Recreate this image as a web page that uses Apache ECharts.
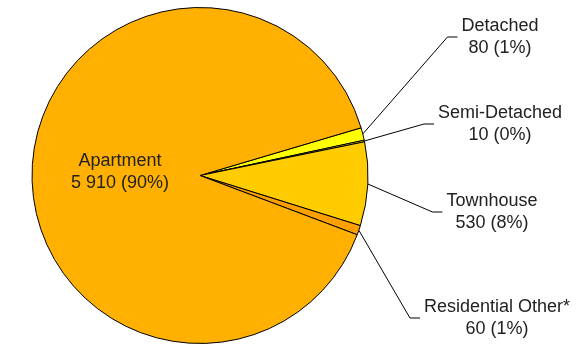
<!DOCTYPE html>
<html>
<head>
<meta charset="utf-8">
<script src="https://cdn.jsdelivr.net/npm/echarts@6/dist/echarts.min.js"></script>
<style>
html,body{margin:0;padding:0;background:#fff;}
#chart{width:579px;height:346px;}
</style>
</head>
<body>
<div id="chart"></div>
<script>
// Data
const categories = ['Detached', 'Semi-Detached', 'Townhouse', 'Residential Other*', 'Apartment'];
const values = [80, 10, 530, 60, 5910];

// Styles / layout (kept apart from data)
const colors = ['#FFFF00', '#FFE600', '#FFCC00', '#FFA000', '#FFB000'];
const labelCenters = {
  'Detached': [500, 37],
  'Semi-Detached': [500, 124],
  'Townhouse': [492, 212],
  'Residential Other*': [497, 318]
};
const insideShift = { 'Apartment': [7, 0] };

const total = values.reduce((a, b) => a + b, 0);
function fmtNum(n) {
  return String(n).replace(/\B(?=(\d{3})+(?!\d))/g, ' ');
}

const seriesData = categories.map((name, i) => {
  const item = { name: name, value: values[i], itemStyle: { color: colors[i] } };
  if (name === 'Apartment') {
    item.label = { position: 'inside' };
    item.labelLine = { show: false };
  }
  return item;
});

const chart = echarts.init(document.getElementById('chart'), null, { renderer: 'canvas' });
chart.setOption({
  animation: false,
  series: [{
    type: 'pie',
    center: [200, 175.5],
    radius: 168,
    startAngle: 16.5,
    clockwise: true,
    avoidLabelOverlap: false,
    data: seriesData,
    itemStyle: { borderColor: '#000', borderWidth: 1 },
    label: {
      show: true,
      position: 'outside',
      fontFamily: 'Liberation Sans, Arial, sans-serif',
      fontSize: 18,
      lineHeight: 22,
      color: '#222',
      align: 'center',
      formatter: function (p) {
        return p.name + '\n' + fmtNum(p.value) + ' (' + Math.round(p.value / total * 100) + '%)';
      }
    },
    labelLine: {
      show: true,
      length: 20,
      length2: 10,
      lineStyle: { color: '#000', width: 1 }
    },
    emphasis: { disabled: true },
    labelLayout: function (params) {
      const name = categories[params.dataIndex];
      const s = insideShift[name];
      if (s) return { dx: s[0], dy: s[1] };
      const c = labelCenters[name];
      if (!c) return {};
      const w = params.labelRect.width;
      const endX = c[0] - w / 2 - 4;
      const endY = c[1];
      const anchor = params.labelLinePoints ? params.labelLinePoints[0] : null;
      const res = { x: c[0], y: c[1], align: 'center', verticalAlign: 'middle' };
      if (anchor) {
        res.labelLinePoints = [anchor, [endX - 10, endY], [endX, endY]];
      }
      return res;
    }
  }]
});
</script>
</body>
</html>
